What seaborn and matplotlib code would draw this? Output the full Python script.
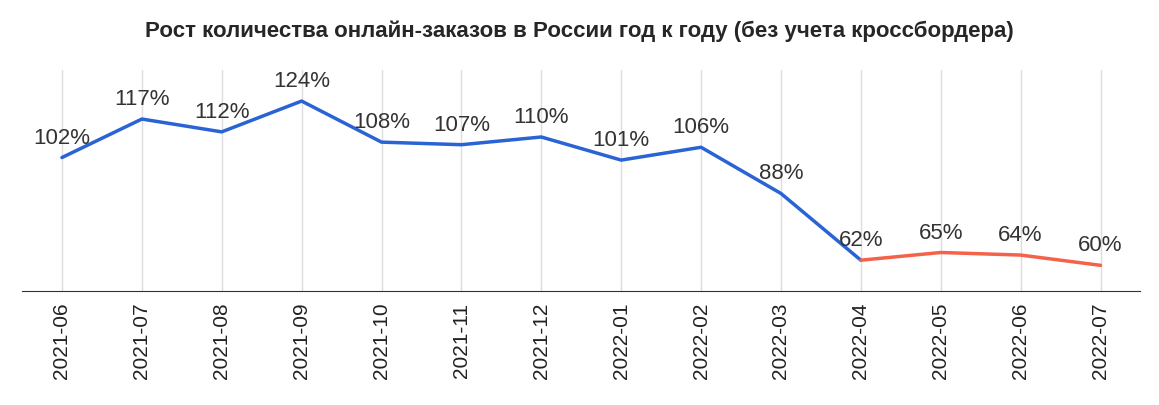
import matplotlib
matplotlib.use('Agg')
import matplotlib.pyplot as plt
import seaborn as sns
import pandas as pd

months = ['2021-06', '2021-07', '2021-08', '2021-09', '2021-10', '2021-11', '2021-12',
          '2022-01', '2022-02', '2022-03', '2022-04', '2022-05', '2022-06', '2022-07']
growth = [102, 117, 112, 124, 108, 107, 110, 101, 106, 88, 62, 65, 64, 60]
split_idx = 10  # с 2022-04 красным

sns.set_style('white')
plt.rcParams['font.family'] = ['Liberation Sans', 'DejaVu Sans']

df = pd.DataFrame({'x': range(len(months)), 'y': growth})

fig = plt.figure(figsize=(11.59, 4.05), dpi=100)
ax = fig.add_axes([0.019, 0.2815, 0.965, 0.545])

sns.lineplot(data=df.iloc[:split_idx + 1], x='x', y='y', color='#2a63d4', linewidth=2.5, ax=ax)
sns.lineplot(data=df.iloc[split_idx:], x='x', y='y', color='#f4624a', linewidth=2.5, ax=ax)

for i, v in enumerate(growth):
    ax.text(i, v + 3.5, f'{v}%', ha='center', va='bottom', fontsize=16, color='#333333')

ax.set_xlim(-0.5, len(months) - 0.5)
ax.set_ylim(50, 136)
ax.set_xticks(range(len(months)))
ax.set_xticklabels(months, rotation=90, fontsize=15, color='#222222')
ax.set_yticks([])
ax.set_xlabel('')
ax.set_ylabel('')
for i in range(len(months)):
    ax.axvline(i, color='#dddddd', linewidth=1, zorder=0)
for s in ['top', 'right', 'left']:
    ax.spines[s].set_visible(False)
ax.spines['bottom'].set_color('#333333')
ax.tick_params(axis='x', length=5, color='#333333')

fig.suptitle('Рост количества онлайн-заказов в России год к году (без учета кроссбордера)',
             fontsize=16, fontweight='bold', color='#262626', y=0.95)

fig.savefig('out.png', dpi=100)
